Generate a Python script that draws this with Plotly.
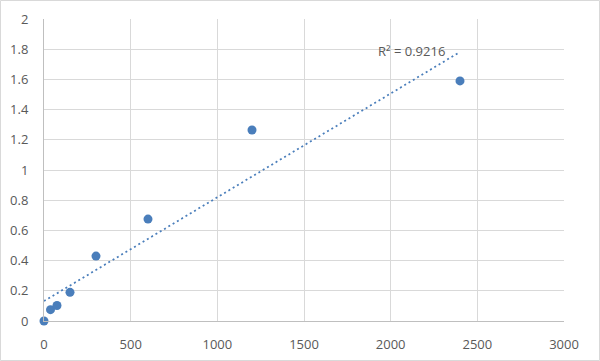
import numpy as np
import plotly.graph_objects as go

conc = [0, 37.5, 75, 150, 300, 600, 1200, 2400]
od = [0.0, 0.075, 0.103, 0.19, 0.43, 0.675, 1.265, 1.59]
x_ticks = [0, 500, 1000, 1500, 2000, 2500, 3000]
y_ticks = [0, 0.2, 0.4, 0.6, 0.8, 1, 1.2, 1.4, 1.6, 1.8, 2]
r2_label = "R² = 0.9216"

slope, intercept = np.polyfit(conc, od, 1)
tx = [min(conc), max(conc)]
ty = [slope * v + intercept for v in tx]

fig = go.Figure()
fig.add_trace(go.Scatter(x=tx, y=ty, mode="lines",
                         line=dict(color="#4A7EBB", width=1.75, dash="2px,3px"),
                         hoverinfo="skip", showlegend=False, cliponaxis=False))
fig.add_trace(go.Scatter(x=conc, y=od, mode="markers",
                         marker=dict(color="#4A7EBB", size=9),
                         showlegend=False, cliponaxis=False))

fig.add_annotation(x=2123, y=1.79, text=r2_label, showarrow=False,
                   font=dict(size=13, color="#595959"))

L, R, T, B = 44, 36, 19, 40
W, H = 600, 361
pw, ph = W - L - R, H - T - B
fig.add_shape(type="rect", xref="paper", yref="paper",
              x0=(-L + 0.5) / pw, x1=(pw + R - 0.5) / pw,
              y0=(-B + 0.5) / ph, y1=(ph + T - 0.5) / ph,
              line=dict(color="#D9D9D9", width=1), layer="below")

axis_font = dict(family="Open Sans, Liberation Sans, sans-serif", size=13, color="#595959")
fig.update_layout(
    width=W, height=H,
    margin=dict(l=L, r=R, t=T, b=B, autoexpand=False),
    paper_bgcolor="white", plot_bgcolor="white",
    font=axis_font,
    xaxis=dict(range=[0, 3000], tickvals=x_ticks, showgrid=True, gridcolor="#D9D9D9",
               zeroline=False, showline=True, linecolor="#BFBFBF", linewidth=1,
               ticks="", tickfont=axis_font, fixedrange=True, automargin=False,
               ticklabelstandoff=11),
    yaxis=dict(range=[0, 2], tickvals=y_ticks, showgrid=True, gridcolor="#D9D9D9",
               zeroline=False, showline=True, linecolor="#BFBFBF", linewidth=1,
               ticks="", tickfont=axis_font, fixedrange=True, automargin=False,
               ticklabelstandoff=12),
)
fig.write_html("out.html", config={"displayModeBar": False},
               post_script="document.body.style.margin='0';")
